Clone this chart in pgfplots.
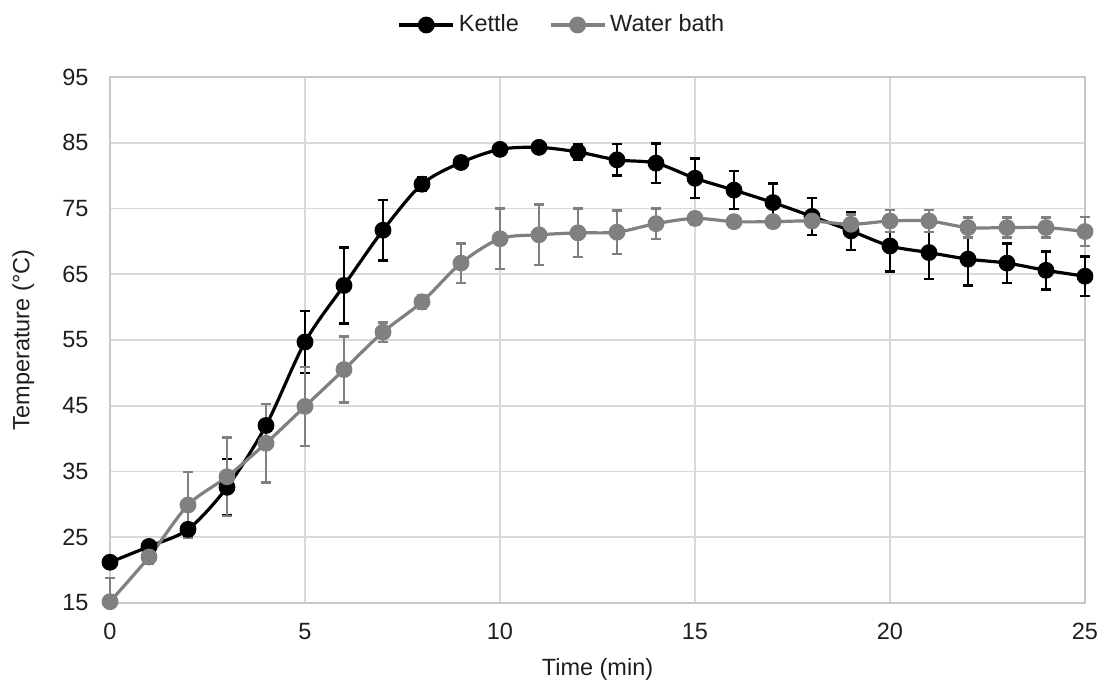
\documentclass[border=0pt]{standalone}
\usepackage{pgfplots}
\pgfplotsset{compat=1.18}
\usepackage{pgfplotstable}
\usepackage{fontspec}
\setmainfont{Liberation Sans}
\definecolor{wb}{RGB}{128,128,128}
\definecolor{gridc}{RGB}{217,217,217}
\definecolor{axc}{RGB}{200,200,200}
\definecolor{txt}{RGB}{30,30,30}

\pgfplotstableread{
t y ep em
0 21.2 0.3 0.3
1 23.6 0.5 0.5
2 26.2 1.0 1.0
3 32.6 4.3 4.3
4 42.0 3.3 3.3
5 54.7 4.7 4.7
6 63.3 5.8 5.8
7 71.7 4.6 4.6
8 78.7 1.0 1.0
9 82.0 0.5 0.5
10 84.0 0.3 0.3
11 84.3 0.3 0.3
12 83.6 1.2 1.2
13 82.4 2.4 2.4
14 81.9 3.0 3.0
15 79.6 3.0 3.0
16 77.8 2.9 2.9
17 75.9 2.9 2.9
18 73.8 2.8 2.8
19 71.6 2.9 2.9
20 69.3 3.9 3.9
21 68.3 4.0 4.0
22 67.3 4.0 4.0
23 66.7 3.0 3.0
24 65.6 2.9 2.9
25 64.7 3.0 3.0
}\kettle

\pgfplotstableread{
t y ep em
0 15.2 3.6 0.2
1 22.0 1.0 1.0
2 29.9 5.0 5.0
3 34.2 6.0 6.0
4 39.3 6.0 6.0
5 44.9 6.0 6.0
6 50.5 5.0 5.0
7 56.2 1.5 1.5
8 60.8 1.0 1.0
9 66.7 3.0 3.0
10 70.4 4.6 4.6
11 71.0 4.6 4.6
12 71.3 3.7 3.7
13 71.4 3.3 3.3
14 72.7 2.3 2.3
15 73.5 1.0 1.0
16 73.0 0.5 0.5
17 73.0 0.5 0.5
18 73.1 0.8 0.8
19 72.6 1.5 1.5
20 73.1 1.7 1.7
21 73.1 1.7 1.7
22 72.1 1.5 1.5
23 72.1 1.5 1.5
24 72.1 1.5 1.5
25 71.5 2.2 2.2
}\water

\begin{document}
\fontsize{11.75}{14}\selectfont
\begin{tikzpicture}
\begin{axis}[
  at={(0,0)}, anchor=south west,
  scale only axis,
  width=487.5pt, height=263pt,
  xmin=0, xmax=25, ymin=15, ymax=95,
  xtick={0,5,...,25}, ytick={15,25,...,95},
  /pgf/number format/assume math mode=true,
  grid=major,
  grid style={gridc, line width=0.9pt},
  axis line style={axc, line width=0.9pt},
  major tick length=0pt,
  clip=false,
  tick label style={font=\fontsize{11.75}{14}\selectfont, text=txt},
  xticklabel style={yshift=-6pt},
  yticklabel style={xshift=-6.6pt},
  xlabel={Time (min)},
  ylabel={Temperature (°C)},
  label style={font=\fontsize{11.75}{14}\selectfont, text=txt},
  xlabel style={at={(axis description cs:0.5,-0.1255)}, anchor=center},
  ylabel style={at={(axis description cs:-0.089,0.5)}, anchor=center, rotate=0},
  legend columns=2,
  legend style={draw=none, fill=none, at={(axis description cs:0.4646,1.0989)}, anchor=center,
    font=\fontsize{11.75}{14}\selectfont, text=txt,
    /tikz/every even column/.append style={column sep=13pt}},
  legend image code/.code={\draw[mark repeat=2,mark phase=2,#1] plot coordinates {(0pt,0pt) (13.5pt,0pt) (27pt,0pt)};},
  every axis plot/.append style={line width=1.6pt},
]
\addplot[black, smooth, tension=0.5, mark=*, mark size=3.4pt, mark options={solid},
  error bars/.cd, y dir=both, y explicit,
  error bar style={line width=1.25pt, black},
  error mark options={rotate=90, mark size=2.4pt, line width=1.25pt, black}]
  table[x=t, y=y, y error plus=ep, y error minus=em] {\kettle};
\addlegendentry{Kettle}
\addplot[wb, smooth, tension=0.5, mark=*, mark size=3.4pt, mark options={solid},
  error bars/.cd, y dir=both, y explicit,
  error bar style={line width=1.25pt, wb},
  error mark options={rotate=90, mark size=2.4pt, line width=1.25pt, wb}]
  table[x=t, y=y, y error plus=ep, y error minus=em] {\water};
\addlegendentry{Water bath}
\end{axis}
\pgfresetboundingbox
\useasboundingbox (-55pt,-39pt) rectangle (497.5pt,301.5pt);
\end{tikzpicture}
\end{document}
